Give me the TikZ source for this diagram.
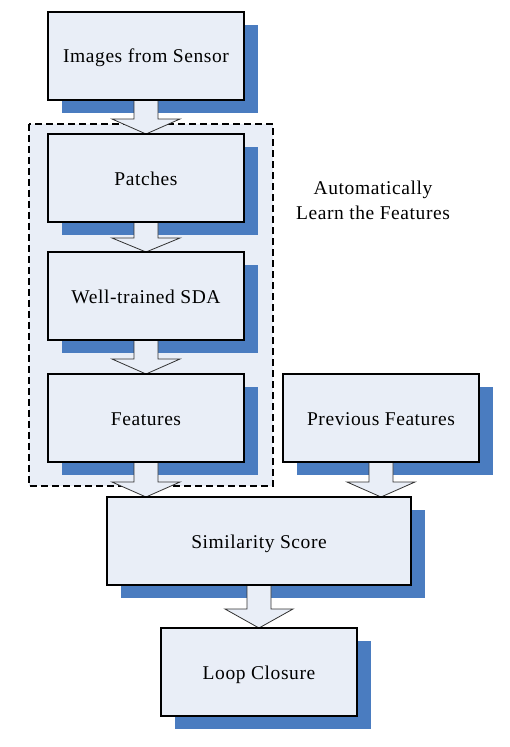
\documentclass[tikz,border=0pt]{standalone}
\usepackage{fontspec}
\setmainfont{Liberation Serif}[LetterSpace=3]
\usetikzlibrary{calc}
\definecolor{boxfill}{RGB}{233,238,247}
\definecolor{shadowblue}{RGB}{74,124,192}
\definecolor{arrline}{RGB}{50,50,50}
\pgfdeclarelayer{bg}
\pgfdeclarelayer{shad}
\pgfdeclarelayer{arr}
\pgfsetlayers{bg,shad,arr,main}
\tikzset{
  box/.style={draw=black, line width=1.4bp, fill=boxfill, rectangle,
    minimum width=196bp, minimum height=88bp, inner sep=0pt, outer sep=0pt,
    text height=14bp, text depth=0bp,
    font=\fontsize{19.5bp}{24bp}\selectfont},
  groupbox/.style={draw=black, line width=1.6bp, dash pattern=on 7bp off 4bp, fill=boxfill},
  blockarrow/.style={fill=boxfill, draw=arrline, line width=0.8bp, line join=miter},
  caption/.style={align=center, font=\fontsize{19.5bp}{25bp}\selectfont}
}
\newcommand{\boxshadow}[1]{%
  \fill[shadowblue] ($(#1.south west)+(14,13)$) rectangle ($(#1.north east)+(14,13)$);}
\newcommand{\flowarrow}[3]{% source, target, head height
  \draw[blockarrow] let \p1=(#1.south), \p2=(#2.north) in
    (\x1-12bp,\y1) -- (\x1-12bp,\y2+#3) -- (\x1-34bp,\y2+#3) -- (\x1,\y2)
    -- (\x1+34bp,\y2+#3) -- (\x1+12bp,\y2+#3) -- (\x1+12bp,\y1);}
\begin{document}
\begin{tikzpicture}[x=1bp,y=-1bp]
\useasboundingbox (0,0) rectangle (510,747);
% boxes
\node[box] (img)   at (146,56)  {Images from Sensor};
\node[box] (patch) at (146,178) {Patches};
\node[box] (sda)   at (146,296) {Well-trained SDA};
\node[box] (feat)  at (146,418) {Features};
\node[box] (prev)  at (381,418) {Previous Features};
\node[box, minimum width=304bp] (sim) at (259,541) {Similarity Score};
\node[box] (loop)  at (259,672) {Loop Closure};
\node[caption] (cap) at (373,200) {Automatically\\Learn the Features};
% group
\begin{pgfonlayer}{bg}
  \coordinate (gtl) at (29,124);
  \coordinate (gbr) at (273,486);
  \draw[groupbox] (gtl) rectangle (gbr);
\end{pgfonlayer}
% shadows
\begin{pgfonlayer}{shad}
  \boxshadow{img}\boxshadow{patch}\boxshadow{sda}\boxshadow{feat}
  \boxshadow{prev}\boxshadow{sim}\boxshadow{loop}
\end{pgfonlayer}
% arrows
\begin{pgfonlayer}{arr}
  \flowarrow{img}{patch}{15bp}
  \flowarrow{patch}{sda}{14bp}
  \flowarrow{sda}{feat}{15bp}
  \flowarrow{feat}{sim}{15bp}
  \flowarrow{prev}{sim}{15bp}
  \flowarrow{sim}{loop}{19bp}
\end{pgfonlayer}
\end{tikzpicture}
\end{document}
